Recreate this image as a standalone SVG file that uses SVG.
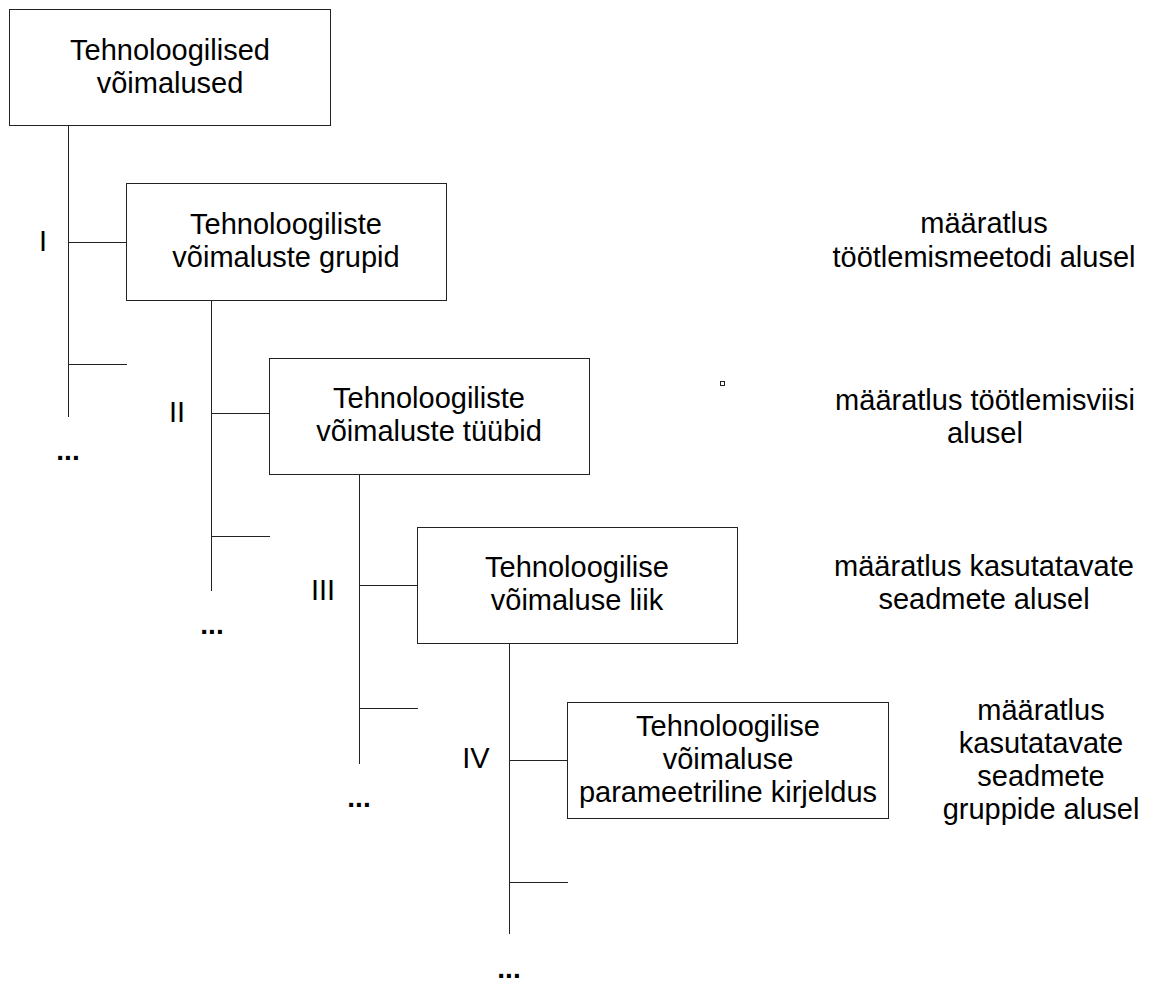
<svg xmlns="http://www.w3.org/2000/svg" width="1152" height="983" viewBox="0 0 1152 983">
  <style>
    .box { fill: #ffffff; stroke: #222222; stroke-width: 1; }
    .conn line { stroke: #222222; stroke-width: 1; }
    text { font-family: "Liberation Sans", Arial, sans-serif; font-size: 29px; fill: #000000; }
    .c { text-anchor: middle; }
    .dots { font-weight: bold; font-size: 28px; text-anchor: middle; }
  </style>
  <rect width="1152" height="983" fill="#ffffff"/>

  <!-- tree connectors: trunks, branches and open stubs -->
  <g id="connectors" class="conn">
    <line x1="68.5" y1="125" x2="68.5" y2="417"/>
    <line x1="68.5" y1="242.5" x2="126" y2="242.5"/>
    <line x1="68.5" y1="364.5" x2="127" y2="364.5"/>

    <line x1="211.5" y1="300" x2="211.5" y2="591"/>
    <line x1="211.5" y1="413.5" x2="269" y2="413.5"/>
    <line x1="211.5" y1="536.5" x2="270" y2="536.5"/>

    <line x1="359.5" y1="474" x2="359.5" y2="764"/>
    <line x1="359.5" y1="585.5" x2="417" y2="585.5"/>
    <line x1="359.5" y1="708.5" x2="418" y2="708.5"/>

    <line x1="509.5" y1="643" x2="509.5" y2="934"/>
    <line x1="509.5" y1="760.5" x2="567" y2="760.5"/>
    <line x1="509.5" y1="882.5" x2="568" y2="882.5"/>
  </g>

  <g id="node-root">
    <rect class="box" x="9.5" y="9.5" width="321" height="116"/>
    <text class="c" x="170" y="60">Tehnoloogilised</text>
    <text class="c" x="170" y="93">võimalused</text>
  </g>

  <g id="node-groups">
    <rect class="box" x="126.5" y="183.5" width="320" height="117"/>
    <text class="c" x="286" y="234">Tehnoloogiliste</text>
    <text class="c" x="286" y="267">võimaluste grupid</text>
  </g>

  <g id="node-types">
    <rect class="box" x="269.5" y="358.5" width="320" height="116"/>
    <text class="c" x="429" y="408">Tehnoloogiliste</text>
    <text class="c" x="429" y="441">võimaluste tüübid</text>
  </g>

  <g id="node-kind">
    <rect class="box" x="417.5" y="527.5" width="320" height="116"/>
    <text class="c" x="577" y="577">Tehnoloogilise</text>
    <text class="c" x="577" y="610">võimaluse liik</text>
  </g>

  <g id="node-params">
    <rect class="box" x="567.5" y="702.5" width="321" height="116"/>
    <text class="c" x="728" y="736">Tehnoloogilise</text>
    <text class="c" x="728" y="769">võimaluse</text>
    <text class="c" x="728" y="802">parameetriline kirjeldus</text>
  </g>

  <!-- level numerals -->
  <g id="levels">
    <text class="c" x="43" y="251">I</text>
    <text class="c" x="177" y="422">II</text>
    <text class="c" x="323" y="600">III</text>
    <text class="c" x="476" y="768">IV</text>
  </g>

  <!-- continuation marks -->
  <g id="continuations">
    <text class="dots" x="68" y="460">...</text>
    <text class="dots" x="212" y="634">...</text>
    <text class="dots" x="359" y="807">...</text>
    <text class="dots" x="509" y="978">...</text>
  </g>

  <!-- level descriptions -->
  <g id="descriptions">
    <text class="c" x="984" y="233">määratlus</text>
    <text class="c" x="984" y="267">töötlemismeetodi alusel</text>

    <text class="c" x="985" y="410">määratlus töötlemisviisi</text>
    <text class="c" x="985" y="443">alusel</text>

    <text class="c" x="984" y="576">määratlus kasutatavate</text>
    <text class="c" x="984" y="609">seadmete alusel</text>

    <text class="c" x="1041" y="720">määratlus</text>
    <text class="c" x="1041" y="753">kasutatavate</text>
    <text class="c" x="1041" y="786">seadmete</text>
    <text class="c" x="1041" y="819">gruppide alusel</text>
  </g>

  <rect id="marker-square" x="720.5" y="381.5" width="4" height="4" fill="none" stroke="#222222" stroke-width="1"/>
</svg>
